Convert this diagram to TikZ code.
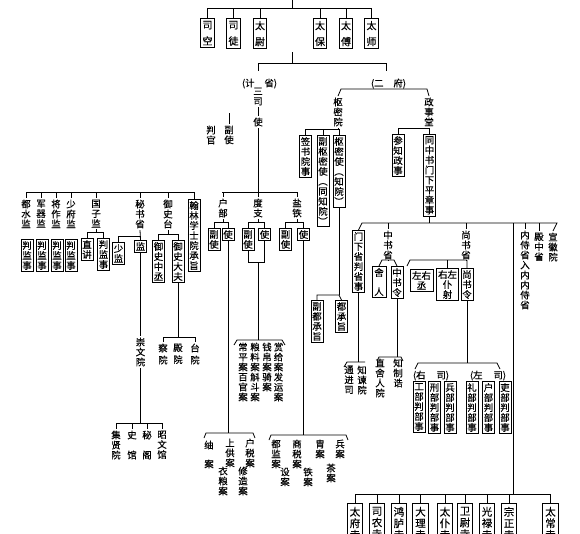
\documentclass[tikz,border=0pt]{standalone}
\usepackage{fontspec}
\setmainfont{Noto Sans CJK SC}[FakeBold=0.4]
\long\def\vtxG#1{}
\long\def\vtxF#1{#1}
\def\vtx#1{\vtxA#1\vtxEnd}
\def\vtxA#1#2\vtxEnd{#1\ifx\relax#2\relax\expandafter\vtxG\else\expandafter\vtxF\fi{\\\vtxA#2\vtxEnd}}
\tikzset{
  ln/.style={line width=0.8pt},
  tx/.style={font=\fontsize{9.4}{10}\selectfont, align=center, anchor=north, inner sep=1.5pt},
  bx/.style={tx, draw, line width=0.8pt, inner xsep=1.4pt, inner ysep=1.8pt},
  topbx/.style={bx, font=\fontsize{10}{16}\selectfont, inner ysep=2.6pt, inner xsep=1.8pt},
  bigbx/.style={bx, font=\fontsize{10.5}{11.5}\selectfont, inner xsep=2.6pt, inner ysep=3.5pt},
}
\begin{document}
\begin{tikzpicture}[x=1pt,y=-1pt]
\useasboundingbox (0,0) rectangle (580,533);
\fill[white] (0,0) rectangle (580,533);
% ---------- top ----------
\node[topbx] (sk) at (207.5,18) {司\\空};
\node[topbx] (stu) at (233.5,18) {司\\徒};
\node[topbx] (twei) at (260,18) {太\\尉};
\node[topbx] (tbao) at (320,18) {太\\保};
\node[topbx] (tfu) at (346,18) {太\\傅};
\node[topbx] (tshi) at (371.5,18) {太\\师};
\coordinate (t0) at (292,0); \coordinate (t1) at (292,8);
\coordinate (t2) at (292,52); \coordinate (t3) at (292,63);
\draw[ln] (t0) -- (t1);
\draw[ln] (sk.north |- t1) -- (tshi.north |- t1);
\foreach \n in {sk,stu,twei,tbao,tfu,tshi} \draw[ln] (\n.north |- t1) -- (\n.north);
\draw[ln] (t2) -- (t3);
\node[tx] (jish) at (259.5,77) {(计\hspace{10pt}省)};
\node[tx] (erfu) at (388.5,77) {(二\hspace{10pt}府)};
\coordinate (jsT) at (258,63); \coordinate (jsB) at (258,71);
\coordinate (efT) at (386,63); \coordinate (efB) at (386,71);
\draw[ln] (jsT) -- (efT);
\draw[ln] (jsT) -- (jsB);
\draw[ln] (efT) -- (efB);
% ---------- san si ----------
\node[tx] (ss) at (258,86) {三\\司};
\node[tx] (sshi) at (258,116) {使};
\draw[ln] (ss.south) -- (sshi.north);
\node[tx] (fshi) at (229,124) {副\\使};
\node[tx] (pg) at (211,124) {判\\官};
\coordinate (fsT) at (229,113);
\draw[ln] (fsT) -- (fshi.north);
\coordinate (hL) at (26,192); \coordinate (hM) at (194,192);
\coordinate (sL) at (222,192); \coordinate (sR) at (298,192);
\draw[ln] (hL) -- (hM);
\draw[ln] (sL) -- (sR);
\draw[ln] (sshi.south) -- (sshi.south |- sL);
% left group
\node[tx] (dsj) at (26,198) {\vtx{都水监}};
\node[tx] (jqj) at (41,198) {\vtx{军器监}};
\node[tx] (jzj) at (56,198) {\vtx{将作监}};
\node[tx] (sfj) at (71,198) {\vtx{少府监}};
\node[tx] (gzj) at (96,198) {\vtx{国子监}};
\node[tx] (msj) at (140,198) {\vtx{秘书省}};
\node[tx] (yst) at (168,198) {\vtx{御史台}};
\node[bx] (hl) at (194,199) {\vtx{翰林学士院承旨}};
\node[tx] (hb) at (223,197) {\vtx{户部}};
\node[tx] (dz) at (258,197) {\vtx{度支}};
\node[tx] (yt) at (297,197) {\vtx{盐铁}};
\foreach \n in {dsj,jqj,jzj,sfj,gzj,msj,yst,hl,hb,dz,yt} \draw[ln] (\n.north |- hL) -- (\n.north);
\node[bx] (pj1) at (27,239) {\vtx{判监事}};
\node[bx] (pj2) at (42,239) {\vtx{判监事}};
\node[bx] (pj3) at (57,239) {\vtx{判监事}};
\node[bx] (pj4) at (71,239) {\vtx{判监事}};
% guozijian
\node[bx] (zjiang) at (87,238) {\vtx{直讲}};
\node[bx] (pj5) at (103.5,238) {\vtx{判监事}};
\coordinate (gzY) at (0,232);
\draw[ln] (gzj.south) -- (gzj.south |- gzY);
\draw[ln] (zjiang.north) -- (zjiang.north |- gzY) -- (pj5.north |- gzY) -- (pj5.north);
% mishusheng
\node[bx] (shaojian) at (118.5,242) {\vtx{少监}};
\node[bx] (jian) at (140.5,240) {监};
\coordinate (msY) at (0,236);
\draw[ln] (msj.south) -- (jian.north);
\draw[ln] (shaojian.north) -- (shaojian.north |- msY) -- (jian.north |- msY);
\node[tx] (cwy) at (140.5,336) {\vtx{崇文院}};
\draw[ln] (jian.south) -- (cwy.north);
\coordinate (cwY) at (0,423);
\draw[ln] (cwy.south) -- (cwy.south |- cwY);
\node[tx] (jxy) at (116,429) {\vtx{集贤院}};
\node[tx] (sg) at (132,429) {史\\[10pt]馆};
\node[tx] (mge) at (147,429) {秘\\[10pt]阁};
\node[tx] (zwg) at (162,429) {\vtx{昭文馆}};
\draw[ln] (jxy.north |- cwY) -- (zwg.north |- cwY);
\foreach \n in {jxy,sg,mge,zwg} \draw[ln] (\n.north |- cwY) -- (\n.north);
% yushitai
\node[bx] (yszc) at (158.5,240) {\vtx{御史中丞}};
\node[bx] (ysdf) at (178,240) {\vtx{御史大夫}};
\coordinate (ysY) at (0,234);
\draw[ln] (yst.south) -- (yst.south |- ysY);
\draw[ln] (yszc.north) -- (yszc.north |- ysY) -- (ysdf.north |- ysY) -- (ysdf.north);
\coordinate (cyY) at (0,337);
\draw[ln] (ysdf.south) -- (ysdf.south |- cyY);
\node[tx] (chy) at (163,342) {察\\[2pt]院};
\node[tx] (diany) at (178,342) {殿\\[2pt]院};
\node[tx] (taiy) at (195,342) {台\\[2pt]院};
\draw[ln] (chy.north) -- (chy.north |- cyY) -- (taiy.north |- cyY) -- (taiy.north);
% hubu duzhi yantie
\coordinate (sgY) at (0,222);
\node[bx] (hbfs) at (214,228) {\vtx{副使}};
\node[bx] (hbs) at (228,228) {使};
\node[bx] (dzfs) at (248,228) {\vtx{副使}};
\node[bx] (dzs) at (264.5,228) {使};
\node[bx] (ytfs) at (285.5,228) {\vtx{副使}};
\node[bx] (yts) at (303.5,228) {使};
\draw[ln] (hb.south) -- (hb.south |- sgY);
\draw[ln] (dz.south) -- (dz.south |- sgY);
\draw[ln] (yt.south) -- (yt.south |- sgY);
\draw[ln] (hbfs.north) -- (hbfs.north |- sgY) -- (hbs.north |- sgY) -- (hbs.north);
\draw[ln] (dzfs.north) -- (dzfs.north |- sgY) -- (dzs.north |- sgY) -- (dzs.north);
\draw[ln] (ytfs.north) -- (ytfs.north |- sgY) -- (yts.north |- sgY) -- (yts.north);
% duzhi cases
\coordinate (dzU) at (0,262); \coordinate (dzM) at (258,262);
\draw[ln] (dzfs.south) -- (dzfs.south |- dzU) -- (dzs.south |- dzU) -- (dzs.south);
\coordinate (dzbL) at (237,340); \coordinate (dzbR) at (282,340);
\draw[ln] (dzM) -- (dzM |- dzbL);
\draw[ln] (dzbL) ++(-3,5) -- (dzbL) -- (dzbR) -- ++(3,5);
\node[tx] (dz1) at (243,341) {\vtx{常平案百官案}};
\node[tx] (dz2) at (255,341) {\vtx{粮料案斛斗案}};
\node[tx] (dz3) at (267,341) {\vtx{钱帛案骑案}};
\node[tx] (dz4) at (278.5,341) {\vtx{赏给案发运案}};
% hubu cases
\coordinate (hbbL) at (206,433); \coordinate (hbbR) at (253,433);
\draw[ln] (hbs.south) -- (hbs.south |- hbbL);
\draw[ln] (hbbL) ++(-2,5) -- (hbbL) -- (hbbR) -- ++(2,5);
\node[tx] (hb1) at (250,437) {\vtx{户税案}};
\node[tx] (hb2) at (230,437) {\vtx{上供案}};
\node[tx] (hb3) at (209,439) {䌷\\[9pt]案};
\node[tx] (hb4) at (223,465) {\vtx{衣粮案}};
\node[tx] (hb5) at (243,465) {\vtx{修造案}};
% yantie cases
\coordinate (ytbL) at (271,435); \coordinate (ytbR) at (346,435);
\draw[ln] (yts.south) -- (yts.south |- ytbL);
\draw[ln] (ytbL) ++(-2,5) -- (ytbL) -- (ytbR) -- ++(2,5);
\node[tx] (yt1) at (276,438) {\vtx{都监案}};
\node[tx] (yt2) at (297,438) {\vtx{商税案}};
\node[tx] (yt3) at (320,438) {\vtx{胄案}};
\node[tx] (yt4) at (340,438) {\vtx{兵案}};
\node[tx] (yt5) at (285,466) {\vtx{设案}};
\node[tx] (yt6) at (308,466) {\vtx{铁案}};
\node[tx] (yt7) at (331,462) {\vtx{茶案}};
% ---------- shumiyuan ----------
\node[tx] (smy) at (338,96) {\vtx{枢密院}};
\node[bx] (qs) at (305.5,135) {\vtx{签书院事}};
\node[bx] (fsm) at (323,135) {\vtx{副枢密使︵同知院︶}};
\node[bx] (sms) at (339,135) {\vtx{枢密使︵知院︶}};
\coordinate (smY) at (0,129);
\draw[ln] (smy.south) -- (smy.south |- smY);
\draw[ln] (qs.north) -- (qs.north |- smY) -- (sms.north |- smY) -- (sms.north);
\draw[ln] (fsm.north |- smY) -- (fsm.north);
\coordinate (dcY) at (0,295);
\node[bx] (fdc) at (317,300) {\vtx{副都承旨}};
\node[bx] (dc) at (341.5,300) {\vtx{都承旨}};
\draw[ln] (sms.south) -- (sms.south |- dcY);
\draw[ln] (fdc.north) -- (fdc.north |- dcY) -- (sms.south |- dcY) -- (dc.north);
% ---------- zhengshitang ----------
\node[tx] (zst) at (429,96) {\vtx{政事堂}};
\coordinate (efL) at (341,89); \coordinate (efR) at (427,89);
\draw[ln] (smy.north) -- (efL) -- (efR) -- (zst.north);
\node[bx] (czzs) at (398,134) {\vtx{参知政事}};
\node[bx] (tzs) at (429.5,134) {\vtx{同中书门下平章事}};
\coordinate (zsY) at (0,128);
\draw[ln] (zst.south) -- (zst.south |- zsY);
\draw[ln] (czzs.north) -- (czzs.north |- zsY) -- (tzs.north |- zsY) -- (tzs.north);
\node[bx] (mxs) at (358.5,230) {\vtx{门下省判省事}};
\node[tx] (zss) at (388,229) {\vtx{中书省}};
\node[tx] (sss) at (466,229) {\vtx{尚书省}};
\node[tx] (nsh) at (525,229) {\vtx{内侍省入内内侍省}};
\node[tx] (dzsh) at (539,231) {\vtx{殿中省}};
\node[tx] (xhy) at (553,231) {\vtx{宣徽院}};
\coordinate (zbL) at (362,223); \coordinate (zbR) at (557,223);
\draw[ln] (tzs.south) -- (tzs.south |- zbL);
\draw[ln] (mxs.north) -- (zbL) -- (zbR) -- (xhy.north);
\foreach \n in {zss,sss,nsh,dzsh} \draw[ln] (\n.north |- zbL) -- (\n.north);
\coordinate (v1) at (513,223); \coordinate (jsY) at (513,494);
\draw[ln] (v1) -- (jsY);
% zhongshusheng
\node[bx, minimum width=14pt] (sr) at (379,266) {舍\\[9pt]人};
\node[bx] (zsl) at (397,266) {\vtx{中书令}};
\coordinate (zsbL) at (382,260); \coordinate (zsbR) at (394,260);
\draw[ln] (zss.south) -- (zss.south |- zsbL);
\draw[ln] (sr.north) -- (zsbL) -- (zsbR) -- (zsl.north);
% shangshusheng
\node[bx, inner xsep=2pt] (zyc) at (421.5,269) {左右\\丞};
\node[bx, inner xsep=1.5pt] (zyps) at (447.5,268) {右左\\仆\\射};
\node[bx] (ssl) at (467,268) {\vtx{尚书令}};
\coordinate (ssbH) at (407,266); \coordinate (ssbL) at (410,260);
\draw[ln] (sss.south) -- (sss.south |- ssbL);
\draw[ln] (ssbH) -- (ssbL) -- (ssl.north |- ssbL) -- (ssl.north);
\draw[ln] (zyps.north |- ssbL) -- (zyps.north);
% six ministries
\coordinate (lbL) at (418,363); \coordinate (lbR) at (497,363);
\draw[ln] (ssl.south) -- (ssl.south |- lbL);
\draw[ln] (lbL) ++(-3,6) -- (lbL) -- (lbR) -- ++(3,6);
\node[tx] (yousi) at (431,369) {(右\hspace{11pt}司)};
\node[tx] (zuosi) at (488,369) {(左\hspace{11pt}司)};
\node[bx] (gb) at (419,381) {\vtx{工部判部事}};
\node[bx] (xb) at (434.5,381) {\vtx{刑部判部事}};
\node[bx] (bb) at (450,381) {\vtx{兵部判部事}};
\node[bx] (lib) at (472,381) {\vtx{礼部判部事}};
\node[bx] (hub) at (488.5,381) {\vtx{户部判部事}};
\node[bx] (lbb) at (505,381) {\vtx{吏部判部事}};
% menxia below
\coordinate (mxbL) at (347,362); \coordinate (mxbR) at (365,362);
\draw[ln] (mxs.south) -- (mxs.south |- mxbL);
\draw[ln] (mxbL) ++(-3,5) -- (mxbL) -- (mxbR);
\node[tx] (tjs) at (349,364) {\vtx{通进司}};
\node[tx] (zjy) at (362,364) {\vtx{知谏院}};
% zhongshuling below
\coordinate (zlbL) at (379,357); \coordinate (zlbR) at (401,357);
\draw[ln] (zsl.south) -- (zsl.south |- zlbL);
\draw[ln] (zlbL) ++(-2,4) -- (zlbL) -- (zlbR) -- ++(2,4);
\node[tx] (zsry) at (380,357) {\vtx{直舍人院}};
\node[tx] (zzg) at (398,357) {\vtx{知制诰}};
% nine courts
\node[bigbx] (j1) at (355,503) {\vtx{太府寺}};
\node[bigbx] (j2) at (377,503) {\vtx{司农寺}};
\node[bigbx] (j3) at (399,503) {\vtx{鸿胪寺}};
\node[bigbx] (j4) at (420.5,503) {\vtx{大理寺}};
\node[bigbx] (j5) at (445,503) {\vtx{太仆寺}};
\node[bigbx] (j6) at (465,503) {\vtx{卫尉寺}};
\node[bigbx] (j7) at (487,503) {\vtx{光禄寺}};
\node[bigbx] (j8) at (509,503) {\vtx{宗正寺}};
\node[bigbx] (j9) at (550.5,503) {\vtx{太常寺}};
\draw[ln] (j1.north |- jsY) -- (j9.north |- jsY);
\foreach \n in {j1,j2,j3,j4,j5,j6,j7,j8,j9} \draw[ln] (\n.north |- jsY) -- (\n.north);
\end{tikzpicture}
\end{document}
